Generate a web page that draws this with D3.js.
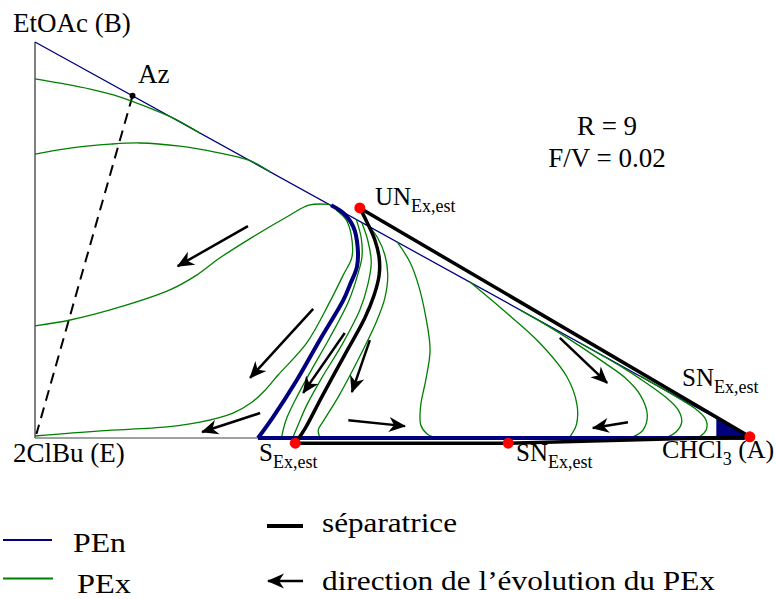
<!DOCTYPE html>
<html><head><meta charset="utf-8">
<script src="https://cdn.jsdelivr.net/npm/d3@7"></script>
<style>
html,body{margin:0;padding:0;background:#fff;}
</style></head>
<body>
<svg id="chart" width="776" height="599"></svg>
<script>
// Compositions given as [x_A (CHCl3), x_B (EtOAc)]
const vertexE = [0, 0], vertexB = [0, 1], vertexA = [1, 0];
const azeotrope = [0.136, 0.864];
const azLineEnd = [0.002, 0.010];
const nodeUN = [0.453, 0.581];
const nodeS = [0.363, -0.013];
const nodeSNbottom = [0.660, -0.013];
const nodeA = [0.997, 0.003];

// PEn (blue thick)
const penCurve = [[0.413,0.588],[0.430,0.568],[0.444,0.533],[0.450,0.482],[0.449,0.432],[0.439,0.386],[0.430,0.348],[0.397,0.247],[0.365,0.146],[0.332,0.053],[0.311,0.000]];
const penBottom = [[0.311,0.000],[0.990,0.000]];
const penWedge = [[0.951,0.049],[0.951,0.000],[1.000,0.000]];

// separatrices (black thick)
const sepCurve = [[0.453,0.581],[0.463,0.545],[0.474,0.500],[0.480,0.455],[0.480,0.412],[0.473,0.361],[0.460,0.303],[0.432,0.210],[0.400,0.104],[0.377,0.025],[0.365,-0.008]];
const sepBottom = [[0.363,-0.013],[0.660,-0.013],[0.997,0.003]];
const sepTop = [[0.453,0.581],[0.997,0.003]];

// PEx profiles (green)
const pex1 = [[0,0.907],[0.035,0.896],[0.077,0.881],[0.119,0.861],[0.160,0.833],[0.195,0.806],[0.230,0.770]];
const pex2 = [[0,0.717],[0.049,0.732],[0.105,0.742],[0.146,0.745],[0.202,0.737],[0.251,0.722],[0.299,0.701],[0.328,0.672]];
const pex3 = [[0,0.283],[0.049,0.298],[0.119,0.331],[0.188,0.374],[0.226,0.412],[0.258,0.455],[0.304,0.508],[0.351,0.558],[0.382,0.588],[0.410,0.590]];
const pex4 = [[0,0.005],[0.091,0.018],[0.184,0.028],[0.230,0.040],[0.276,0.063],[0.303,0.091],[0.321,0.121],[0.339,0.159],[0.379,0.240],[0.411,0.343],[0.430,0.412],[0.442,0.457],[0.441,0.513],[0.434,0.551],[0.420,0.576]];
const pex5 = [[0.448,0.552],[0.455,0.505],[0.456,0.457],[0.450,0.412],[0.438,0.348],[0.411,0.253],[0.384,0.167],[0.363,0.096],[0.350,0.045],[0.344,0.003]];
const pex6 = [[0.456,0.543],[0.464,0.500],[0.469,0.444],[0.464,0.386],[0.453,0.323],[0.428,0.235],[0.400,0.152],[0.379,0.083],[0.367,0.033],[0.360,0.003]];
const pex7 = [[0.466,0.535],[0.478,0.505],[0.488,0.462],[0.492,0.412],[0.488,0.354],[0.476,0.293],[0.449,0.192],[0.423,0.104],[0.403,0.045],[0.395,0.020],[0.397,0.003]];
const pex8 = [[0.505,0.495],[0.523,0.444],[0.534,0.391],[0.545,0.306],[0.551,0.222],[0.545,0.146],[0.538,0.083],[0.538,0.033],[0.547,0.010],[0.555,0.003]];
const pex9 = [[0.607,0.393],[0.653,0.323],[0.704,0.240],[0.742,0.154],[0.756,0.083],[0.755,0.033],[0.746,0.003]];
const pex10 = [[0.677,0.323],[0.718,0.280],[0.760,0.232],[0.795,0.189],[0.823,0.152],[0.844,0.109],[0.854,0.058],[0.848,0.020],[0.834,0.003]];
const pex11 = [[0.760,0.240],[0.816,0.182],[0.851,0.141],[0.879,0.104],[0.897,0.071],[0.902,0.040],[0.894,0.015],[0.883,0.003]];
const pex12 = [[0.844,0.157],[0.900,0.098],[0.923,0.071],[0.936,0.045],[0.936,0.020],[0.927,0.003]];
const pexCurves = [pex1,pex2,pex3,pex4,pex5,pex6,pex7,pex8,pex9,pex10,pex11,pex12];

// direction arrows [from, to]
const arrows = [
  [[0.297,0.535],[0.199,0.434]],
  [[0.388,0.326],[0.300,0.152]],
  [[0.432,0.265],[0.374,0.114]],
  [[0.467,0.247],[0.442,0.116]],
  [[0.437,0.045],[0.516,0.030]],
  [[0.314,0.063],[0.233,0.015]],
  [[0.732,0.253],[0.798,0.139]],
  [[0.827,0.040],[0.778,0.025]]
];

const paramLines = ["R = 9", "F/V = 0.02"];
const legendItems = ["PEn", "PEx", "séparatrice", "direction de l’évolution du PEx"];

const FONT = "'Liberation Serif', 'Times New Roman', Times, 'Nimbus Roman', serif";
const svg = d3.select("#chart").attr("font-family", FONT);
const x = d3.scaleLinear().domain([0,1]).range([35,752]);
const y = d3.scaleLinear().domain([0,1]).range([438,42]);
const straight = d3.line().x(d=>x(d[0])).y(d=>y(d[1]));
const smooth = d3.line().x(d=>x(d[0])).y(d=>y(d[1])).curve(d3.curveCatmullRom.alpha(0.5));

const NAVY = "#00007f", GREEN = "#007f00", GREY = "#808080";

const defs = svg.append("defs");
defs.append("marker").attr("id","head").attr("markerUnits","userSpaceOnUse")
  .attr("viewBox","-18 -9 20 18").attr("refX",0).attr("refY",0)
  .attr("markerWidth",20).attr("markerHeight",18).attr("orient","auto")
  .append("path").attr("d","M1,0 L-16,-7.5 L-11,0 L-16,7.5 Z").attr("fill","#000");

// triangle edges
svg.append("path").attr("d", straight([vertexB, vertexE])).attr("stroke",GREY).attr("stroke-width",2).attr("fill","none");
svg.append("path").attr("d", straight([vertexE, vertexA])).attr("stroke",GREY).attr("stroke-width",1.5).attr("fill","none");
svg.append("path").attr("d", straight([vertexB, vertexA])).attr("stroke",NAVY).attr("stroke-width",1.3).attr("fill","none");

// azeotrope dashed
svg.append("path").attr("d", straight([azeotrope, azLineEnd])).attr("stroke","#000").attr("stroke-width",2).attr("stroke-dasharray","11,7").attr("fill","none");

// PEx curves
svg.append("g").selectAll("path").data(pexCurves).join("path")
  .attr("d", smooth).attr("stroke",GREEN).attr("stroke-width",1.3).attr("fill","none");

// PEn
svg.append("path").attr("d", smooth(penCurve)).attr("stroke",NAVY).attr("stroke-width",4).attr("fill","none").attr("stroke-linejoin","round");
svg.append("path").attr("d", straight(penBottom)).attr("stroke",NAVY).attr("stroke-width",4).attr("fill","none");
svg.append("path").attr("d", straight(penWedge)+"Z").attr("fill",NAVY).attr("stroke",NAVY).attr("stroke-width",1);

// separatrices
svg.append("path").attr("d", smooth(sepCurve)).attr("stroke","#000").attr("stroke-width",3.5).attr("fill","none");
svg.append("path").attr("d", straight(sepBottom)).attr("stroke","#000").attr("stroke-width",3.5).attr("fill","none");
svg.append("path").attr("d", straight(sepTop)).attr("stroke","#000").attr("stroke-width",3.5).attr("fill","none");

// arrows
svg.append("g").selectAll("path").data(arrows).join("path")
  .attr("d", d => straight(d)).attr("stroke","#000").attr("stroke-width",2.5).attr("fill","none")
  .attr("marker-end","url(#head)");

// nodes
svg.append("circle").attr("cx",x(azeotrope[0])).attr("cy",y(azeotrope[1])).attr("r",3).attr("fill","#000");
svg.append("g").selectAll("circle").data([nodeUN,nodeS,nodeSNbottom,nodeA]).join("circle")
  .attr("cx",d=>x(d[0])).attr("cy",d=>y(d[1])).attr("r",5.5).attr("fill","#ff0000");

// labels
function label(tx, ty, main, sub, size, after){
  const t = svg.append("text").attr("x",tx).attr("y",ty).attr("font-family",FONT).attr("font-size",size);
  t.append("tspan").text(main);
  if (sub){ t.append("tspan").attr("dy",7).attr("font-size",18).text(sub); }
  if (after){ t.append("tspan").attr("dy",sub?-7:0).text(after); }
  return t;
}
label(13, 32, "EtOAc (B)", null, 27);
label(138, 83, "Az", null, 27);
label(13, 462, "2ClBu (E)", null, 27);
label(375, 205, "UN", "Ex,est", 25);
label(259, 461, "S", "Ex,est", 25);
label(516, 461, "SN", "Ex,est", 25);
label(682, 386, "SN", "Ex,est", 25);
label(662, 458, "CHCl", "3", 26, " (A)");

svg.append("g").selectAll("text").data(paramLines).join("text")
  .attr("x",607).attr("y",(d,i)=>135+i*32).attr("text-anchor","middle")
  .attr("font-family",FONT).attr("font-size",27).text(d=>d);

// legend
const lg = svg.append("g");
lg.append("line").attr("x1",3).attr("x2",52).attr("y1",540).attr("y2",540).attr("stroke",NAVY).attr("stroke-width",2);
lg.append("line").attr("x1",3).attr("x2",53).attr("y1",578.5).attr("y2",578.5).attr("stroke",GREEN).attr("stroke-width",2);
lg.append("line").attr("x1",267).attr("x2",303).attr("y1",526).attr("y2",526).attr("stroke","#000").attr("stroke-width",4);
lg.append("line").attr("x1",303).attr("x2",268).attr("y1",581).attr("y2",581).attr("stroke","#000").attr("stroke-width",2.5).attr("marker-end","url(#head)");
const legPos = [[73,552],[77,593],[322,532],[322,590]];
const legW = [53,54,135,393];
lg.selectAll("text").data(legendItems).join("text")
  .attr("x",(d,i)=>legPos[i][0]).attr("y",(d,i)=>legPos[i][1])
  .attr("textLength",(d,i)=>legW[i]).attr("lengthAdjust","spacingAndGlyphs")
  .attr("font-family",FONT).attr("font-size",28).text(d=>d);
</script>
</body></html>
